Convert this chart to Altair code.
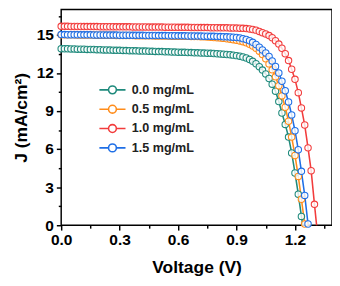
import altair as alt
import pandas as pd

# Voltage grid (V)
voltage = [0.000, 0.017, 0.033, 0.050, 0.067, 0.083, 0.100, 0.117, 0.133, 0.150,
           0.167, 0.183, 0.200, 0.217, 0.233, 0.250, 0.267, 0.283, 0.300, 0.317,
           0.333, 0.350, 0.367, 0.383, 0.400, 0.417, 0.433, 0.450, 0.467, 0.483,
           0.500, 0.517, 0.533, 0.550, 0.567, 0.583, 0.600, 0.617, 0.633, 0.650,
           0.667, 0.683, 0.700, 0.717, 0.733, 0.750, 0.767, 0.783, 0.800, 0.817,
           0.833, 0.850, 0.867, 0.883, 0.900, 0.917, 0.933, 0.950, 0.967, 0.983,
           1.000, 1.017, 1.033, 1.050, 1.067, 1.083, 1.100, 1.117, 1.133, 1.150,
           1.167, 1.183, 1.200, 1.217, 1.233, 1.250, 1.267, 1.283, 1.300, 1.317]

j_00 = [13.92, 13.91, 13.91, 13.90, 13.89, 13.88, 13.88, 13.87, 13.86, 13.85,
        13.85, 13.84, 13.83, 13.82, 13.82, 13.81, 13.80, 13.79, 13.79, 13.78,
        13.77, 13.76, 13.76, 13.75, 13.74, 13.73, 13.73, 13.72, 13.71, 13.70,
        13.69, 13.69, 13.68, 13.67, 13.66, 13.65, 13.64, 13.63, 13.63, 13.62,
        13.61, 13.60, 13.59, 13.58, 13.57, 13.56, 13.55, 13.54, 13.52, 13.50,
        13.48, 13.46, 13.44, 13.41, 13.37, 13.32, 13.26, 13.18, 13.07, 12.92,
        12.73, 12.50, 12.23, 11.93, 11.57, 11.12, 10.57, 9.75, 8.85, 7.95,
        6.95, 5.70, 4.12, 2.45, 0.70, -1.10]

j_05 = [15.02, 15.02, 15.01, 15.01, 15.01, 15.00, 15.00, 15.00, 14.99, 14.99,
        14.99, 14.98, 14.98, 14.98, 14.97, 14.97, 14.97, 14.96, 14.96, 14.96,
        14.95, 14.95, 14.95, 14.94, 14.94, 14.94, 14.93, 14.93, 14.93, 14.92,
        14.92, 14.92, 14.91, 14.91, 14.90, 14.90, 14.90, 14.89, 14.89, 14.89,
        14.88, 14.88, 14.87, 14.86, 14.85, 14.84, 14.82, 14.80, 14.78, 14.76,
        14.73, 14.70, 14.67, 14.63, 14.58, 14.53, 14.47, 14.38, 14.27, 14.12,
        13.95, 13.72, 13.45, 13.12, 12.72, 12.25, 11.70, 11.00, 10.20, 9.30,
        8.20, 6.95, 5.50, 3.85, 2.05, 0.10, -1.90]

j_10 = [15.68, 15.68, 15.68, 15.67, 15.67, 15.67, 15.67, 15.66, 15.66, 15.66,
        15.66, 15.66, 15.65, 15.65, 15.65, 15.65, 15.65, 15.64, 15.64, 15.64,
        15.64, 15.64, 15.63, 15.63, 15.63, 15.63, 15.63, 15.62, 15.62, 15.62,
        15.62, 15.62, 15.61, 15.61, 15.61, 15.61, 15.60, 15.60, 15.60, 15.60,
        15.59, 15.59, 15.59, 15.58, 15.58, 15.58, 15.57, 15.57, 15.57, 15.56,
        15.56, 15.56, 15.55, 15.55, 15.54, 15.53, 15.52, 15.50, 15.47, 15.43,
        15.38, 15.28, 15.18, 15.08, 14.95, 14.78, 14.55, 14.28, 13.95, 13.52,
        12.98, 12.30, 11.50, 10.45, 9.25, 7.90, 6.10, 4.30, 1.65, -0.90]

j_15 = [15.03, 15.03, 15.02, 15.02, 15.02, 15.02, 15.01, 15.01, 15.01, 15.01,
        15.00, 15.00, 15.00, 15.00, 14.99, 14.99, 14.99, 14.99, 14.98, 14.98,
        14.98, 14.98, 14.97, 14.97, 14.97, 14.97, 14.96, 14.96, 14.96, 14.96,
        14.95, 14.95, 14.95, 14.94, 14.94, 14.94, 14.93, 14.93, 14.93, 14.92,
        14.92, 14.92, 14.91, 14.91, 14.90, 14.90, 14.89, 14.89, 14.88, 14.87,
        14.86, 14.85, 14.84, 14.82, 14.80, 14.77, 14.71, 14.64, 14.55, 14.42,
        14.25, 14.04, 13.82, 13.58, 13.30, 12.95, 12.52, 12.00, 11.35, 10.60,
        9.72, 8.70, 7.45, 5.95, 4.25, 2.35, 0.10, -2.20]

series_names = ["0.0 mg/mL", "0.5 mg/mL", "1.0 mg/mL", "1.5 mg/mL"]
series_values = [j_00, j_05, j_10, j_15]
series_colors = ["#1f8a7c", "#ff8c1a", "#f23c3c", "#1f6fe6"]

x_ticks = [0.0, 0.15, 0.3, 0.45, 0.6, 0.75, 0.9, 1.05, 1.2, 1.35]
y_ticks = [0, 1.5, 3, 4.5, 6, 7.5, 9, 10.5, 12, 13.5, 15, 16.5]

rows = []
for name, vals in zip(series_names, series_values):
    for i, jv in enumerate(vals):
        rows.append({"series": name, "V": voltage[i], "J": jv, "idx": i})
df = pd.DataFrame(rows)

FONT = "Liberation Sans"

x_enc = alt.X(
    "V:Q",
    scale=alt.Scale(domain=[0, 1.39], nice=False, zero=False),
    axis=alt.Axis(
        title="Voltage (V)", values=x_ticks,
        labelExpr="round(datum.value*100) % 30 == 0 ? format(datum.value, '.1f') : ''",
        tickSize={"condition": {"test": "round(datum.value*100) % 30 == 0", "value": 5}, "value": 3},
        labelFlush=False, labelOverlap=False, grid=False, domain=False,
        tickColor="black", tickWidth=1.5, labelPadding=2,
        labelFont=FONT, labelFontSize=16, labelFontWeight="bold", labelColor="black",
        titleFont=FONT, titleFontSize=18, titleFontWeight="bold", titleColor="black",
        titlePadding=12,
    ),
)
y_enc = alt.Y(
    "J:Q",
    scale=alt.Scale(domain=[0, 17], nice=False, zero=False),
    axis=alt.Axis(
        title="J (mA/cm²)", values=y_ticks,
        labelExpr="round(datum.value*10) % 30 == 0 ? format(datum.value, 'd') : ''",
        tickSize={"condition": {"test": "round(datum.value*10) % 30 == 0", "value": 5}, "value": 3},
        labelFlush=False, labelOverlap=False, grid=False, domain=False,
        tickColor="black", tickWidth=1.5, labelPadding=3,
        labelFont=FONT, labelFontSize=16, labelFontWeight="bold", labelColor="black",
        titleFont=FONT, titleFontSize=18, titleFontWeight="bold", titleColor="black",
        titlePadding=6,
    ),
)

legend = alt.Legend(
    title=None, orient="none", legendX=45, legendY=75,
    symbolType="M-2,0L-0.6,0M0.6,0A0.6,0.6,0,1,1,-0.6,0A0.6,0.6,0,1,1,0.6,0M0.6,0L2,0",
    symbolSize=182, symbolStrokeWidth=1.6, symbolFillColor="white",
    labelFont=FONT, labelFontSize=13, labelFontWeight="bold", labelColor="#222222",
    labelOffset=12, rowPadding=4,
)
color_enc = alt.Color(
    "series:N",
    scale=alt.Scale(domain=series_names, range=series_colors),
    legend=legend,
)

base = alt.Chart(df)
lines = base.mark_line(clip=True, strokeWidth=1.6).encode(
    x=x_enc, y=y_enc, color=color_enc, order="idx:Q"
)
points = base.transform_filter("datum.J >= 0").mark_point(
    shape="circle", filled=False, fill="white", fillOpacity=0.8,
    size=44, strokeWidth=1.1
).encode(x=x_enc, y=y_enc, color=color_enc)

chart = alt.layer(lines, points).properties(
    width=280, height=223,
    padding={"left": 5, "top": -5, "right": 0, "bottom": 0},
).configure_view(stroke="black", strokeWidth=1.5)

chart.save("out.html", embed_options={"renderer": "svg", "actions": False})
